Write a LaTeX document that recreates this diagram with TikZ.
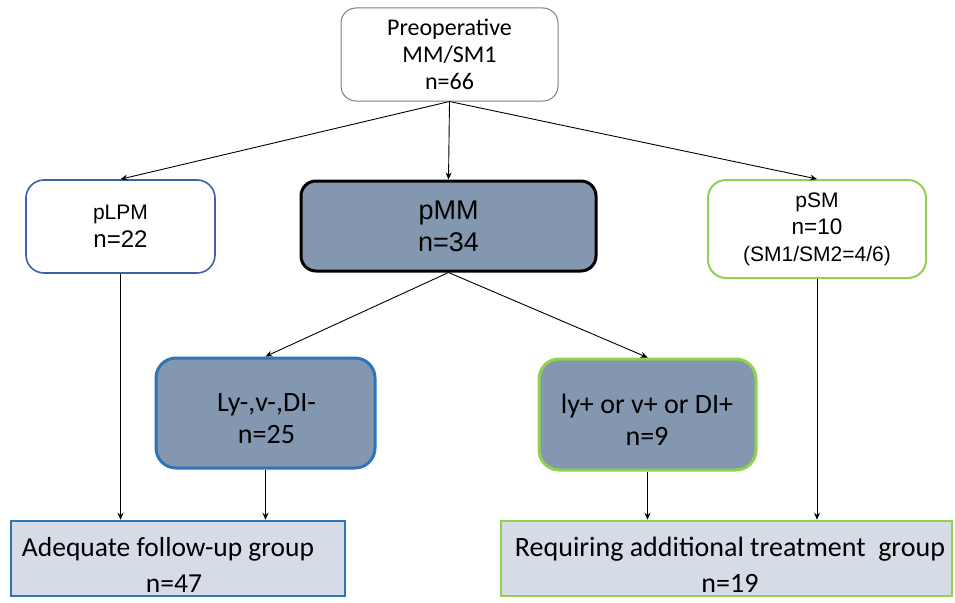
\documentclass[tikz,border=0pt]{standalone}
\usepackage{fontspec}
\setmainfont{Liberation Sans}
\newfontfamily\calfont{Carlito}
\usetikzlibrary{arrows.meta}
\definecolor{boxfill}{HTML}{8497B0}
\definecolor{lightfill}{HTML}{D6DCE5}
\definecolor{blueb}{HTML}{2E75B6}
\definecolor{blueb2}{HTML}{3A62A8}
\definecolor{greenb}{HTML}{92D050}
\definecolor{grayb}{HTML}{808080}
\newcommand{\fs}[2]{\fontsize{#1}{#2}\selectfont}
\tikzset{
  box/.style={draw, rounded corners=15pt, align=center, inner sep=0pt, text=black},
  sqbox/.style={draw, line width=2.5pt, fill=lightfill, inner sep=0pt},
  txt/.style={align=center, inner sep=0pt, text=black},
  conn/.style={-{Stealth[length=7pt,width=6pt]}, line width=0.9pt, black},
}
\begin{document}
\begin{tikzpicture}[x=1pt,y=-1pt]
\useasboundingbox (0,0) rectangle (955,602);
\node[box, draw=grayb, line width=1pt, minimum width=217pt, minimum height=93pt, font=\calfont\fs{24}{27}] (top) at (449.5,54.5)
  {Preoperative\\ MM/SM1\\ n=66};
\node[box, draw=blueb2, line width=1.6pt, rounded corners=18pt, minimum width=189pt, minimum height=93pt, font=\fs{21}{28}] (plpm) at (120.5,226.5)
  {pLPM\\ \fontsize{24}{28}\selectfont n=22};
\node[box, draw=black, fill=boxfill, line width=3pt, minimum width=295pt, minimum height=90pt, font=\fs{27}{32}] (pmm) at (448.5,226)
  {pMM\\ n=34};
\node[box, draw=greenb, line width=2pt, rounded corners=18pt, minimum width=218pt, minimum height=98pt, font=\fs{21}{27}] (psm) at (817,229)
  {pSM\\ \fontsize{22.5}{27}\selectfont n=10\\ (SM1/SM2=4/6)};
\node[box, draw=blueb, fill=boxfill, line width=3pt, rounded corners=20pt, minimum width=219pt, minimum height=110pt] (lyn) at (265.5,413) {};
\node[txt, font=\calfont\fs{28}{32}] (lynT) at (266.5,419) {Ly-,v-,DI-\\ n=25};
\node[box, draw=greenb, fill=boxfill, line width=3pt, rounded corners=20pt, minimum width=217pt, minimum height=111pt] (lyp) at (647.5,414.5) {};
\node[txt, font=\calfont\fs{28}{32}] (lypT) at (647,420) {ly+ or v+ or DI+\\ n=9};
\node[sqbox, draw=blueb, minimum width=334pt, minimum height=75pt] (adeq) at (178,558.5) {};
\node[txt, font=\calfont\fs{27.5}{36}] (adeqT) at (168,565) {Adequate follow-up group\\ \hspace*{12pt}n=47};
\node[sqbox, draw=greenb, minimum width=451pt, minimum height=75pt] (req) at (726.5,558.5) {};
\node[txt, font=\calfont\fs{28}{36}] (reqT) at (730,565) {Requiring additional treatment\ \ group\\ n=19};
\draw[conn] (top.south) -- (plpm.north);
\draw[conn] (top.south) -- (pmm.north);
\draw[conn] (top.south) -- (psm.north);
\draw[conn] (pmm.south) -- (lyn.north);
\draw[conn] (pmm.south) -- (lyp.north);
\draw[conn] (plpm.south) -- (plpm.south |- adeq.north);
\draw[conn] (lyn.south) -- (lyn.south |- adeq.north);
\draw[conn] (lyp.south) -- (lyp.south |- req.north);
\draw[conn] (psm.south) -- (psm.south |- req.north);
\end{tikzpicture}
\end{document}
